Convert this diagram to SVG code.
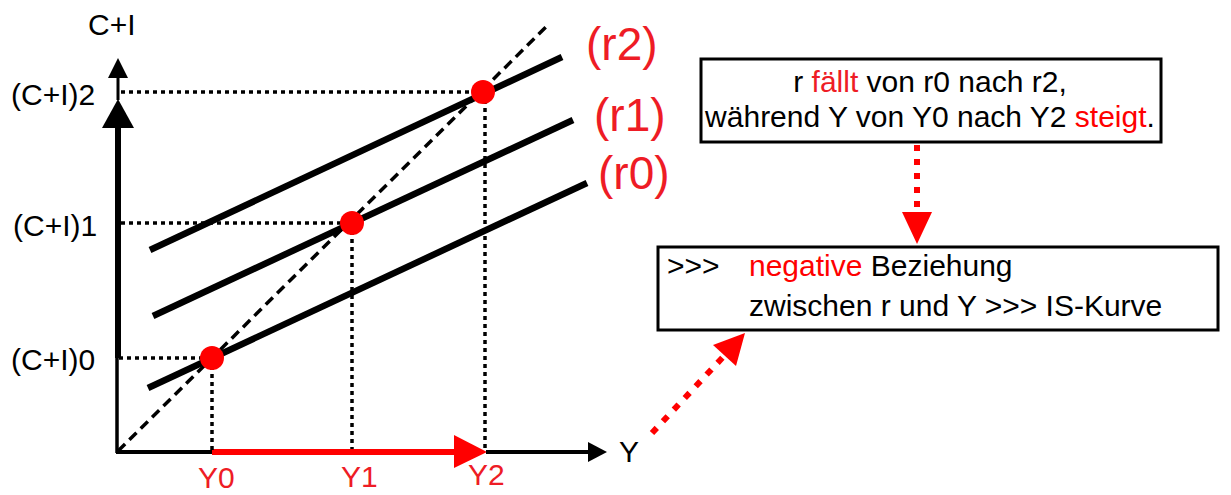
<svg xmlns="http://www.w3.org/2000/svg" width="1231" height="495" viewBox="0 0 1231 495">
<style>
text{font-family:"Liberation Sans",Arial,sans-serif;font-size:30px;fill:#000}
.lbl{fill:#ee1c25}
.red{fill:#ff0000}
.r{font-size:46px;fill:#ee1c25}
.dot{fill:#ff0000}
.guide{stroke:#000;stroke-width:3.5;stroke-dasharray:4 4;fill:none}
.diag{stroke:#000;stroke-width:3.5;stroke-dasharray:10 6;fill:none}
.curve{stroke:#000;stroke-width:6.5;fill:none}
.box{fill:#fff;stroke:#000;stroke-width:3}
.rdot{stroke:#ff0000;stroke-width:6;fill:none}
</style>
<g id="axes">
<line x1="117" y1="453" x2="117" y2="356" stroke="#000" stroke-width="3.5"/>
<line x1="118" y1="358" x2="118" y2="125" stroke="#000" stroke-width="6"/>
<polygon points="102,128 134,128 118,99" fill="#000"/>
<line x1="118" y1="100" x2="118" y2="75" stroke="#000" stroke-width="3"/>
<polygon points="108,78 128,78 118,58" fill="#000"/>
<line x1="116" y1="452" x2="214" y2="452" stroke="#000" stroke-width="4"/>
<line x1="212" y1="452" x2="458" y2="452" stroke="#ff0000" stroke-width="6"/>
<polygon points="454,435 454,468 487,452" fill="#ff0000"/>
<line x1="486" y1="452" x2="590" y2="452" stroke="#000" stroke-width="4"/>
<polygon points="588,442 588,462 607,452" fill="#000"/>
</g>
<g id="guides">
<line class="diag" x1="118" y1="451" x2="548" y2="25"/>
<line class="guide" x1="121" y1="92" x2="483" y2="92"/>
<line class="guide" x1="121" y1="223" x2="352" y2="223"/>
<line class="guide" x1="119" y1="358" x2="212" y2="358"/>
<line class="guide" x1="212" y1="358" x2="212" y2="450"/>
<line class="guide" x1="352" y1="223" x2="352" y2="449"/>
<line class="guide" x1="485" y1="92" x2="485" y2="449"/>
</g>
<g id="curves">
<line class="curve" x1="150" y1="250" x2="562" y2="57"/>
<line class="curve" x1="153" y1="316" x2="573" y2="120"/>
<line class="curve" x1="148" y1="388" x2="587" y2="183"/>
</g>
<g id="points">
<circle class="dot" cx="212" cy="358" r="12"/>
<circle class="dot" cx="352" cy="223" r="12"/>
<circle class="dot" cx="483" cy="92" r="12"/>
</g>
<g id="labels">
<text x="88" y="35" font-size="29">C+I</text>
<text x="11" y="105" font-size="31">(C+I)2</text>
<text x="13" y="236" font-size="31">(C+I)1</text>
<text x="11" y="370" font-size="31">(C+I)0</text>
<text class="lbl" x="198" y="488">Y0</text>
<text class="lbl" x="341" y="487">Y1</text>
<text class="lbl" x="468" y="485">Y2</text>
<text x="619" y="462">Y</text>
<text class="r" x="586" y="60">(r2)</text>
<text class="r" x="594" y="131">(r1)</text>
<text class="r" x="598" y="189">(r0)</text>
</g>
<g id="box1">
<rect class="box" x="701" y="59" width="460" height="83"/>
<text x="930" y="92" text-anchor="middle" fill="#222">r <tspan class="lbl">fällt</tspan> von r0 nach r2,</text>
<text x="930" y="127" text-anchor="middle" fill="#222">während Y von Y0 nach Y2 <tspan class="red">steigt</tspan>.</text>
</g>
<g id="box2">
<rect class="box" x="658" y="247" width="560" height="83"/>
<text x="667" y="276">&gt;&gt;&gt;</text>
<text x="749" y="276"><tspan class="red">negative</tspan> Beziehung</text>
<text x="749" y="316">zwischen r und Y &gt;&gt;&gt; IS-Kurve</text>
</g>
<g id="connectors">
<line class="rdot" x1="917" y1="145" x2="917" y2="214" stroke-dasharray="6 8"/>
<polygon points="902,212 932,212 917,244" fill="#ff0000"/>
<line class="rdot" x1="652" y1="433" x2="724" y2="356" stroke-dasharray="7 9"/>
<polygon points="745,333 713,345 736,366" fill="#ff0000"/>
</g>
</svg>
